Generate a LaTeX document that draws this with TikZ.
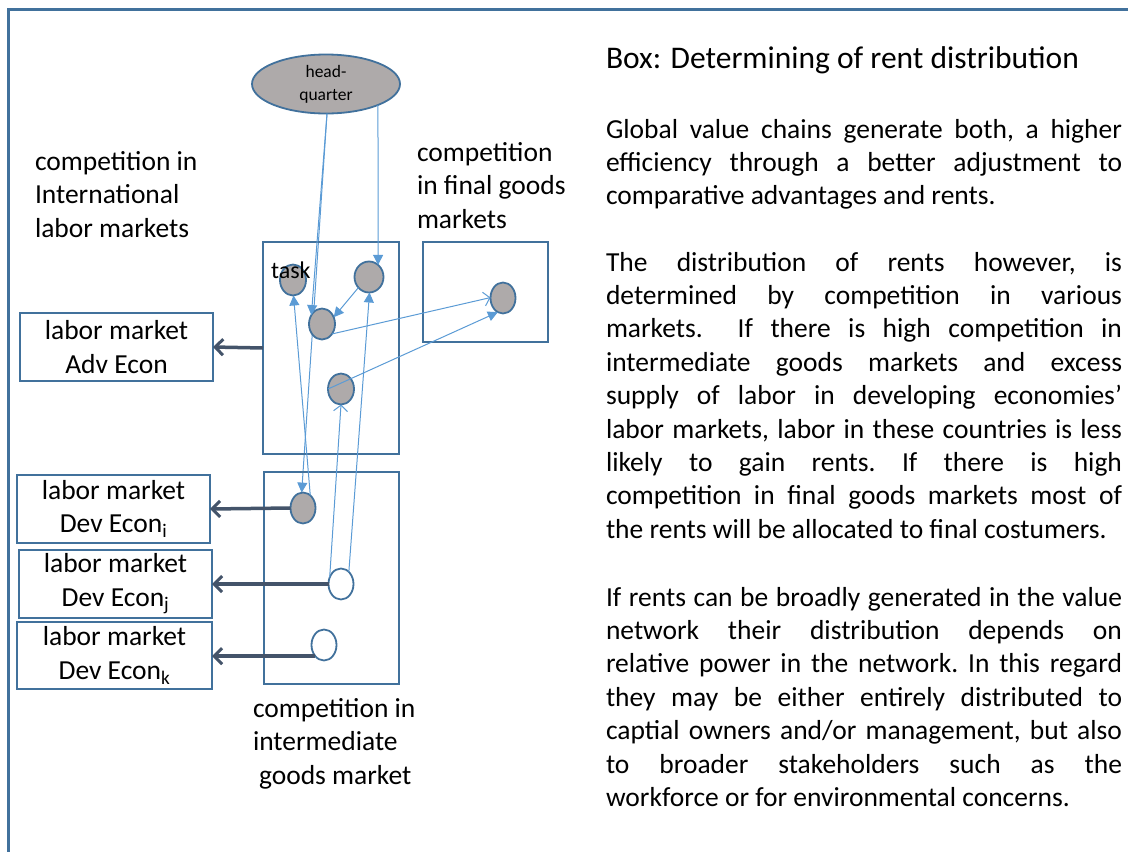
\documentclass[tikz,border=0pt]{standalone}
\usepackage{fontspec}
\setmainfont{Carlito}
\usetikzlibrary{shapes.geometric,arrows.meta,backgrounds}
\definecolor{frameblue}{HTML}{41719C}
\definecolor{greyfill}{HTML}{AEAAAA}
\definecolor{lightarrow}{HTML}{5B9BD5}
\definecolor{darkarrow}{HTML}{44546A}
\newlength{\parw}\setlength{\parw}{516pt}
\newcommand{\jl}[1]{\hbox to \parw{\frenchspacing\spaceskip=0.226em plus 1fil minus 0.07em\relax #1}}
\newcommand{\lastl}[1]{\hbox to \parw{\frenchspacing\spaceskip=0.226em minus 0.07em\relax #1\hfill}}
\begin{document}
\begin{tikzpicture}[x=1pt,y=-1pt,
  every node/.style={inner sep=0pt, outer sep=0pt},
  bodyfont/.style={font=\fontsize{27.5}{33.5}\selectfont},
  lbox/.style={draw=frameblue, line width=1.8pt, minimum height=68pt, align=center, bodyfont},
  region/.style={draw=frameblue, line width=1.8pt},
  taskell/.style={ellipse, draw=frameblue, line width=1.8pt, fill=greyfill, minimum width=26pt, minimum height=31pt},
  emptyell/.style={ellipse, draw=frameblue, line width=1.8pt, fill=white, minimum width=25pt, minimum height=31pt},
  lflow/.style={draw=lightarrow, line width=1pt},
  fhead/.style={-{Triangle[length=10pt,width=10pt]}},
  ohead/.style={-{Straight Barb[length=6pt,width=14pt]}},
  labflow/.style={draw=darkarrow, line width=3.5pt, -{Straight Barb[length=8pt,width=16pt,line width=3pt]}},
  para/.style={font=\fontsize{27.5}{33.4}\selectfont, text width=516pt, align=left, anchor=base west},
  lbl/.style={bodyfont, align=left, anchor=base west}
]
\useasboundingbox (0,0) rectangle (1128,852);
% frame
\coordinate (ftl) at (8,9);
\coordinate (ftr) at (1128,9);
\coordinate (fbl) at (8,852);
\draw[frameblue, line width=3pt] (ftr) -- (ftl) -- (fbl);

% regions
\node[region, minimum width=136pt, minimum height=212pt] (ubox) at (331,348) {};
\node[region, minimum width=125pt, minimum height=100pt] (fbox) at (485.5,292) {};
\node[region, minimum width=135pt, minimum height=212pt] (dbox) at (331.5,578) {};

% labor market boxes
\node[lbox, minimum width=193pt] (adv) at (116.5,347) {labor market\\Adv Econ};
\node[lbox, minimum width=193pt] (bi) at (113.5,509) {labor market\\Dev Econ\textsubscript{i}};
\node[lbox, minimum width=193pt] (bj) at (115.5,584) {labor market\\Dev Econ\textsubscript{j}};
\node[lbox, minimum width=195pt, minimum height=67pt] (bk) at (114.5,655.5) {labor market\\Dev Econ\textsubscript{k}};

% headquarter
\node[ellipse, draw=frameblue, line width=1.8pt, fill=greyfill, minimum width=148pt, minimum height=59pt, align=center, font=\fontsize{17.5}{23}\selectfont] (hq) at (326,84) {head-\\quarter};

% tasks
\node[taskell] (t1) at (293,280) {};
\node[taskell, minimum width=29pt] (t2) at (369,277) {};
\node[taskell] (t3) at (322,324) {};
\node[taskell] (t4) at (341,389) {};
\node[taskell, minimum width=25pt] (fg) at (503,298) {};
\node[taskell, minimum width=25pt] (d1) at (303,508) {};
\node[emptyell] (d2) at (341,584) {};
\node[emptyell] (d3) at (324,645) {};
\node[anchor=base west, font=\fontsize{24}{28}\selectfont] (tasklbl) at (271,278) {task};

% light flows
\begin{scope}[on background layer]
\draw[lflow, fhead] (hq.-88) -- (d1.95);
\end{scope}
\draw[lflow, fhead] (hq.-88) -- (t3.140);
\draw[lflow, fhead] (hq.-22) -- (t2.53);
\draw[lflow, fhead] (t2.225) -- (t3.30);
\draw[lflow, fhead] (d1.60) -- (t1.-88);
\draw[lflow, fhead] (d2.57) -- (t2.-88);
\draw[lflow, -{Straight Barb[length=6pt,width=14pt]}, {Straight Barb[length=6pt,width=14pt]}-] (t4.south) -- (d2.150);
\draw[lflow, ohead] (t3.-45) -- (fg.178);
\draw[lflow, fhead] (t4.west) -- (fg.-110);

% labor flows
\draw[labflow] (ubox.west) -- (adv.east);
\draw[labflow] (d1.west) -- (bi.east);
\draw[labflow] (d2.west) -- (bj.east);
\draw[labflow] (d3.-128) -- (d3.-128 -| bk.east);

% labels
\node[lbl] (cint) at (35,237) {competition in\\International\\labor markets};
\node[lbl] (cfin) at (417,228) {competition\\in final goods\\markets};
\node[lbl] (cmid) at (253,784) {competition in\\intermediate\\\hspace*{6pt}goods market};

% right text
\node[anchor=base west, font=\fontsize{31.5}{38}\selectfont] (title) at (606,68) {Box: Determining of rent distribution};
\node[para] (p1) at (606,138) {\jl{Global value chains generate both, a higher}
\jl{efficiency through a better adjustment to}
\lastl{comparative advantages and rents.}};
\node[para] (p2) at (606,271) {\jl{The distribution of rents however, is}
\jl{determined by competition in various}
\jl{markets.\ \ If there is high competition in}
\jl{intermediate goods markets and excess}
\jl{supply of labor in developing economies’}
\jl{labor markets, labor in these countries is less}
\jl{likely to gain rents. If there is high}
\jl{competition in final goods markets most of}
\lastl{the rents will be allocated to final costumers.}};
\node[para] (p3) at (606,606) {\jl{If rents can be broadly generated in the value}
\jl{network their distribution depends on}
\jl{relative power in the network. In this regard}
\jl{they may be either entirely distributed to}
\jl{captial owners and/or management, but also}
\jl{to broader stakeholders such as the}
\lastl{workforce or for environmental concerns.}};
\end{tikzpicture}
\end{document}
